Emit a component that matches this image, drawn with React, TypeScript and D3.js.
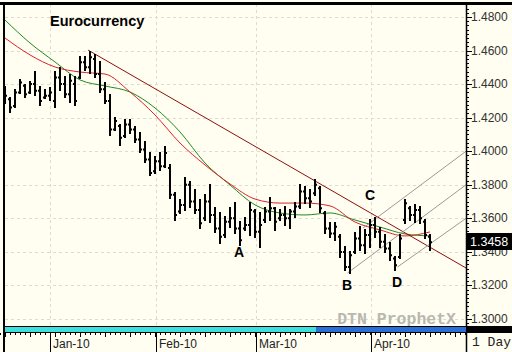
import React from "react";
import * as d3 from "d3";

// daily euro bars (index 0 = mid Dec-09)
const high = [
  1.4383, 1.4317, 1.4365, 1.4425, 1.4395, 1.4413, 1.4472, 1.4383, 1.4365, 1.4377,
  1.4472, 1.4496, 1.4442, 1.4454, 1.4442, 1.4562, 1.4562, 1.4591, 1.4574, 1.4532,
  1.4407, 1.4335, 1.4198, 1.4156, 1.4186, 1.4186, 1.4144, 1.4109, 1.4055, 1.3989,
  1.3966, 1.3989, 1.4025, 1.3918, 1.3751, 1.3709, 1.384, 1.3817, 1.3769, 1.3709,
  1.3739, 1.3799, 1.3662, 1.3632, 1.3608, 1.3662, 1.3691, 1.3578, 1.3602, 1.3691,
  1.365, 1.3632, 1.3662, 1.3721, 1.3662, 1.365, 1.3668, 1.365, 1.3691, 1.3799,
  1.3787, 1.3769, 1.3829, 1.3787, 1.3638, 1.3572, 1.3572, 1.3501, 1.3429, 1.3399,
  1.3513, 1.3548, 1.3531, 1.359, 1.3602, 1.3542, 1.3501, 1.3453, 1.337, 1.3501,
  1.3709, 1.3668, 1.368, 1.3668, 1.359, 1.3501,
];
const low = [
  1.4287, 1.4234, 1.4264, 1.4347, 1.4323, 1.4347, 1.4335, 1.4276, 1.4317, 1.4305,
  1.4264, 1.4365, 1.4323, 1.4293, 1.4276, 1.4436, 1.4484, 1.4466, 1.4442, 1.4353,
  1.4287, 1.4097, 1.4127, 1.4037, 1.4085, 1.4109, 1.4055, 1.3995, 1.3936, 1.3858,
  1.387, 1.3888, 1.3906, 1.3721, 1.359, 1.3632, 1.365, 1.3668, 1.3632, 1.3542,
  1.359, 1.3578, 1.3519, 1.3453, 1.3489, 1.3548, 1.3513, 1.3441, 1.3531, 1.3501,
  1.3489, 1.3429, 1.3578, 1.359, 1.3531, 1.359, 1.356, 1.3542, 1.3608, 1.3662,
  1.3691, 1.3668, 1.3739, 1.3638, 1.3513, 1.3489, 1.3471, 1.337, 1.3292, 1.3274,
  1.3393, 1.3411, 1.3393, 1.3429, 1.3489, 1.3429, 1.3399, 1.3352, 1.3292, 1.3364,
  1.3572, 1.359, 1.3578, 1.3572, 1.3483, 1.3411,
];
const open = [
  1.43, 1.431, 1.427, 1.435, 1.439, 1.435, 1.44, 1.436, 1.432, 1.433,
  1.43, 1.444, 1.44, 1.434, 1.44, 1.444, 1.453, 1.45, 1.455, 1.446,
  1.437, 1.43, 1.413, 1.415, 1.409, 1.416, 1.413, 1.407, 1.401, 1.395,
  1.388, 1.394, 1.391, 1.39, 1.374, 1.364, 1.368, 1.38, 1.37, 1.365,
  1.36, 1.37, 1.362, 1.354, 1.35, 1.358, 1.36, 1.354, 1.354, 1.356,
  1.364, 1.352, 1.359, 1.364, 1.366, 1.36, 1.362, 1.36, 1.364, 1.367,
  1.376, 1.372, 1.375, 1.378, 1.363, 1.354, 1.351, 1.349, 1.34, 1.331,
  1.34, 1.348, 1.344, 1.35, 1.356, 1.352, 1.346, 1.342, 1.336, 1.337,
  1.359, 1.366, 1.362, 1.365, 1.358, 1.349,
];
const close = [
  1.433, 1.426, 1.435, 1.441, 1.434, 1.44, 1.436, 1.43, 1.433, 1.435,
  1.444, 1.44, 1.434, 1.442, 1.43, 1.453, 1.45, 1.456, 1.446, 1.437,
  1.43, 1.413, 1.418, 1.408, 1.416, 1.413, 1.407, 1.401, 1.395, 1.387,
  1.394, 1.391, 1.399, 1.374, 1.362, 1.368, 1.38, 1.37, 1.365, 1.357,
  1.37, 1.362, 1.354, 1.349, 1.358, 1.36, 1.354, 1.347, 1.356, 1.365,
  1.352, 1.356, 1.364, 1.366, 1.358, 1.362, 1.36, 1.364, 1.367, 1.376,
  1.372, 1.37, 1.38, 1.366, 1.354, 1.351, 1.355, 1.34, 1.331, 1.338,
  1.348, 1.344, 1.35, 1.356, 1.352, 1.346, 1.342, 1.338, 1.332, 1.348,
  1.369, 1.362, 1.365, 1.36, 1.35, 1.3458,
];

// moving averages, sampled every 5 bars
const maStep = 5;
const redMA = [
  1.4675, 1.4574, 1.4502, 1.4472, 1.446, 1.4353, 1.4216, 1.4049, 1.3918, 1.3805,
  1.3715, 1.3691, 1.3691, 1.3674, 1.3578, 1.3531, 1.3495, 1.3519,
];
const greenMA = [
  1.4782, 1.4645, 1.4532, 1.4425, 1.4389, 1.4353, 1.4258, 1.4115, 1.393, 1.3799,
  1.368, 1.3632, 1.362, 1.3632, 1.359, 1.3548, 1.3507, 1.3495,
];

// trend line + channel: [startIdx, startPrice, endIdx, endPrice]
const downTrend = [16.6, 1.4603, 92.2, 1.3304];
const channel = [
  [71.6, 1.3542, 92.2, 1.4],
  [68.5, 1.3274, 92.2, 1.38],
  [78.5, 1.331, 92.2, 1.36],
];

const markers = ["A", "B", "C", "D"];
const markerIdx = [46.8, 68.4, 73, 78.4];
const markerPrice = [1.3399, 1.3203, 1.3739, 1.3221];

const months = ["Jan-10", "Feb-10", "Mar-10", "Apr-10"];
const monthIdx = [9, 30.2, 50.2, 73.2];

const lastPrice = "1.3458";

const W = 512;
const H = 352;
const left = 5;
const right = 466;
const top = 4;
const bottom = 327;

export default function App() {
  const x = d3.scaleLinear().domain([0, 92.2]).range([left, right]);
  const y = d3.scaleLinear().domain([1.3, 1.48]).range([319, 17]);

  const majorTicks = d3.range(1.3, 1.4801, 0.02);
  const minorTicks = d3.range(1.2975, 1.49, 0.0025).filter((v) => y(v) > top + 2 && y(v) < bottom);

  const maLine = d3
    .line<number>()
    .x((_, i) => x(i * maStep))
    .y((d) => y(d))
    .curve(d3.curveMonotoneX);

  const barTicks = d3.range(-1, 93);

  return (
    <svg
      width={W}
      height={H}
      style={{ position: "fixed", left: 0, top: 0, background: "#fffef0" }}
      fontFamily="Arial, 'Liberation Sans', sans-serif"
    >
      <defs>
        <clipPath id="plot">
          <rect x={left} y={top} width={right - left} height={bottom - top} />
        </clipPath>
      </defs>
      <rect x={0} y={0} width={W} height={H} fill="#fffef0" />

      {/* grid */}
      <g stroke="#dcdcd0" strokeDasharray="3,3" strokeWidth={1}>
        {majorTicks.map((t) => (
          <line key={t} x1={left} x2={right} y1={Math.round(y(t)) + 0.5} y2={Math.round(y(t)) + 0.5} />
        ))}
        {monthIdx.map((m) => (
          <line key={m} x1={Math.round(x(m)) + 0.5} x2={Math.round(x(m)) + 0.5} y1={top} y2={bottom} />
        ))}
      </g>

      <text x={50} y={26} fontSize={14.5} fontWeight="bold" fill="#000">
        Eurocurrency
      </text>

      <text
        x={456}
        y={324}
        textAnchor="end"
        fontFamily="'Liberation Mono', 'DejaVu Sans Mono', monospace"
        fontSize={16.5}
        fontWeight="bold"
        fill="#b8b8b2"
      >
        DTN ProphetX
      </text>

      <g clipPath="url(#plot)">
        {/* moving averages */}
        <path d={maLine(greenMA) || ""} fill="none" stroke="#1e8a1e" strokeWidth={1} />
        <path d={maLine(redMA) || ""} fill="none" stroke="#e0202a" strokeWidth={1} />

        {/* trend lines */}
        <line
          x1={x(downTrend[0])}
          y1={y(downTrend[1])}
          x2={x(downTrend[2])}
          y2={y(downTrend[3])}
          stroke="#8b1010"
          strokeWidth={1}
        />
        {channel.map((c, i) => (
          <line key={i} x1={x(c[0])} y1={y(c[1])} x2={x(c[2])} y2={y(c[3])} stroke="#9a9a9a" strokeWidth={1} />
        ))}

        {/* OHLC bars */}
        <g stroke="#000" strokeWidth={2}>
          {high.map((h, i) => {
            const cx = Math.round(x(i));
            return (
              <g key={i}>
                <line x1={cx} x2={cx} y1={y(h) - 1} y2={y(low[i]) + 1} />
                <line x1={cx - 2} x2={cx} y1={y(open[i])} y2={y(open[i])} />
                <line x1={cx} x2={cx + 2} y1={y(close[i])} y2={y(close[i])} />
              </g>
            );
          })}
        </g>
      </g>

      {markers.map((m, i) => (
        <text
          key={m}
          x={x(markerIdx[i])}
          y={y(markerPrice[i])}
          textAnchor="middle"
          dominantBaseline="central"
          fontSize={14}
          fontWeight="bold"
          fill="#000"
        >
          {m}
        </text>
      ))}

      {/* right axis */}
      <line x1={right + 0.5} x2={right + 0.5} y1={top} y2={H} stroke="#000" strokeWidth={1.5} />
      <g stroke="#000" strokeWidth={1}>
        {minorTicks.map((t) => (
          <line key={t} x1={right} x2={right + 3} y1={Math.round(y(t)) + 0.5} y2={Math.round(y(t)) + 0.5} />
        ))}
        {majorTicks.map((t) => (
          <line key={t} x1={right} x2={right + 6} y1={Math.round(y(t)) + 0.5} y2={Math.round(y(t)) + 0.5} />
        ))}
      </g>
      {majorTicks.map((t) => (
        <text key={t} x={471} y={y(t)} dominantBaseline="central" fontSize={12} fill="#333">
          {d3.format(".4f")(t)}
        </text>
      ))}
      <rect x={467} y={233} width={45} height={17} fill="#000" />
      <text x={470} y={242} dominantBaseline="central" fontSize={12.5} fill="#fff">
        {lastPrice}
      </text>

      {/* frame */}
      <rect x={0} y={2} width={W} height={3} fill="#000" />
      <rect x={3} y={2} width={2} height={H} fill="#000" />

      {/* time band */}
      <rect x={left} y={326} width={x(62.2) - left} height={6} fill="#3ee0dc" />
      <rect x={x(62.2)} y={326} width={right - x(62.2)} height={6} fill="#2a6fd6" />
      <rect x={right} y={326} width={W - right} height={6} fill="#000" />
      <line x1={left} x2={right} y1={326.5} y2={326.5} stroke="#000" />
      <line x1={left} x2={W} y1={332.5} y2={332.5} stroke="#000" />
      <g stroke="#000" strokeWidth={1}>
        {barTicks.map((i) => (
          <line key={i} x1={Math.round(x(i)) + 0.5} x2={Math.round(x(i)) + 0.5} y1={333} y2={i % 5 === 0 ? 337 : 335} />
        ))}
        {monthIdx.map((m) => (
          <line key={m} x1={Math.round(x(m)) + 0.5} x2={Math.round(x(m)) + 0.5} y1={333} y2={H} />
        ))}
      </g>
      {months.map((m, i) => (
        <text key={m} x={x(monthIdx[i]) + 3} y={348} fontSize={12} fill="#222">
          {m}
        </text>
      ))}
      <text
        x={472}
        y={346}
        fontFamily="'Liberation Mono', 'DejaVu Sans Mono', monospace"
        fontSize={13}
        fill="#222"
      >
        1 Day
      </text>
    </svg>
  );
}
